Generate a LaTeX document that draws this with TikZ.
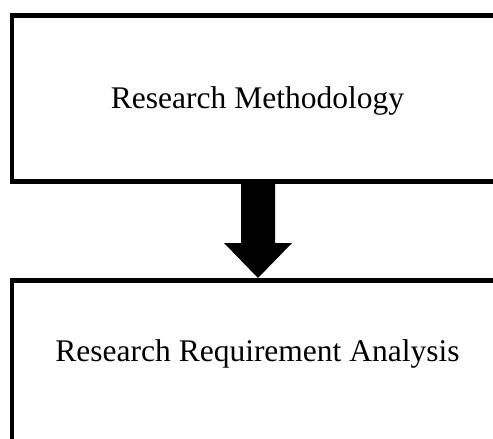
\documentclass[tikz,border=0pt]{standalone}
\usepackage{fontspec}
\setmainfont{Liberation Serif}
\begin{document}
\begin{tikzpicture}[x=1pt,y=-1pt,
  box/.style={draw=black,line width=4.5pt,rectangle,inner sep=0pt},
  lbl/.style={font=\fontsize{31.5}{36}\selectfont,anchor=base,inner sep=0pt},
  bigarrow/.style={fill=black,draw=none}]
\useasboundingbox (0,0) rectangle (493,439);
\clip (0,0) rectangle (493,439);
\fill[white] (0,0) rectangle (493,439);
\node[box,minimum width=508pt,minimum height=166pt] (a) at (266,98.5) {};
\node[box,minimum width=508pt,minimum height=200pt] (b) at (266,380.5) {};
\node[lbl] (ta) at (257.5,108) {Research Methodology};
\node[lbl] (tb) at (257.5,361) {Research Requirement Analysis};
\coordinate (s) at (258,183);
\coordinate (t) at (258,278);
\fill[bigarrow] ([xshift=-17pt]s) -- ([xshift=17pt]s) -- ([xshift=17pt,yshift=35pt]t)
  -- ([xshift=34pt,yshift=35pt]t) -- (t) -- ([xshift=-34pt,yshift=35pt]t)
  -- ([xshift=-17pt,yshift=35pt]t) -- cycle;
\end{tikzpicture}
\end{document}
